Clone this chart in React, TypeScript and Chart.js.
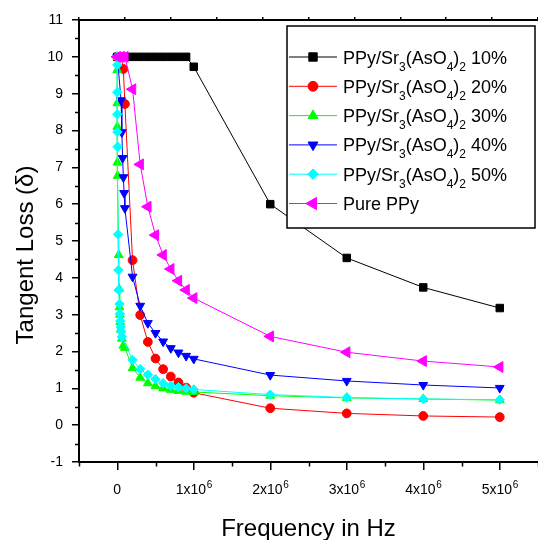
import React, { useEffect, useRef } from 'react';
import { Chart, registerables } from 'chart.js';
import { drawPoint } from 'chart.js/helpers';

Chart.register(...registerables);

const FONT = '"Liberation Sans", Arial, Helvetica, sans-serif';

// ---- series names (with _{...} subscripts) ----
const seriesNames = [
  'PPy/Sr_{3}(AsO_{4})_{2} 10%',
  'PPy/Sr_{3}(AsO_{4})_{2} 20%',
  'PPy/Sr_{3}(AsO_{4})_{2} 30%',
  'PPy/Sr_{3}(AsO_{4})_{2} 40%',
  'PPy/Sr_{3}(AsO_{4})_{2} 50%',
  'Pure PPy',
];

// ---- data (frequency in Hz, tangent loss) ----
const freq10 = [1e3, 5e4, 1e5, 2e5, 3e5, 4e5, 5e5, 6e5, 7e5, 8e5, 9e5, 1e6, 2e6, 3e6, 4e6, 5e6];
const loss10 = [10, 10, 10, 10, 10, 10, 10, 10, 10, 10, 10, 9.73, 6.0, 4.54, 3.74, 3.18];

const freq20 = [1e3, 5e4, 8e4, 1e5, 2e5, 3e5, 4e5, 5e5, 6e5, 7e5, 8e5, 9e5, 1e6, 2e6, 3e6, 4e6, 5e6];
const loss20 = [10, 10, 9.67, 8.72, 4.48, 2.99, 2.26, 1.81, 1.52, 1.32, 1.16, 1.02, 0.88, 0.46, 0.32, 0.25, 0.22];

const freq30 = [1e2, 2e2, 5e2, 1e3, 2e3, 5e3, 2e4, 2.5e4, 3e4, 3.5e4, 4e4, 4.5e4, 6e4, 8e4, 1e5, 2e5, 3e5, 4e5, 5e5, 6e5, 7e5, 8e5, 9e5, 1e6, 2e6, 3e6, 4e6, 5e6];
const loss30 = [10, 9.64, 8.74, 8.1, 7.13, 6.77, 4.62, 3.7, 3.2, 3.0, 2.8, 2.6, 2.35, 2.16, 2.1, 1.55, 1.29, 1.14, 1.06, 1.0, 0.96, 0.93, 0.91, 0.9, 0.8, 0.74, 0.71, 0.68];

const freq40 = [1e3, 5e4, 6e4, 7e4, 8e4, 9e4, 1e5, 2e5, 3e5, 4e5, 5e5, 6e5, 7e5, 8e5, 9e5, 1e6, 2e6, 3e6, 4e6, 5e6];
const loss40 = [10, 8.82, 7.95, 7.25, 6.73, 6.3, 5.89, 4.03, 3.24, 2.77, 2.5, 2.27, 2.09, 1.97, 1.88, 1.8, 1.36, 1.2, 1.09, 1.01];

const freq50 = [1e2, 2e2, 5e2, 1e3, 2e3, 5e3, 1e4, 1.5e4, 2e4, 3e4, 3.5e4, 4e4, 4.5e4, 5e4, 6e4, 2e5, 3e5, 4e5, 5e5, 6e5, 7e5, 8e5, 9e5, 1e6, 2e6, 3e6, 4e6, 5e6];
const loss50 = [10, 9.78, 9.04, 8.44, 7.96, 7.56, 5.18, 4.21, 3.67, 3.29, 3.02, 2.83, 2.66, 2.54, 2.4, 1.77, 1.52, 1.37, 1.25, 1.14, 1.07, 1.03, 1.0, 0.97, 0.83, 0.75, 0.71, 0.69];

const freqPure = [1e3, 5e4, 1e5, 2e5, 3e5, 4e5, 5e5, 6e5, 7e5, 8e5, 9e5, 1e6, 2e6, 3e6, 4e6, 5e6];
const lossPure = [10, 10, 10, 9.12, 7.08, 5.93, 5.16, 4.62, 4.24, 3.92, 3.67, 3.45, 2.41, 1.98, 1.74, 1.58];

// ---- axes ----
const X_MIN = -0.5e6;
const X_MAX = 5.5e6;
const Y_MIN = -1;
const Y_MAX = 11;
const X_MINOR = 0.5e6;
const Y_MINOR = 0.5;
const xTickValues = [0, 1e6, 2e6, 3e6, 4e6, 5e6];
const xTickBase = ['0', '1x10', '2x10', '3x10', '4x10', '5x10'];
const xTickExp = ['', '6', '6', '6', '6', '6'];
const xTitle = 'Frequency in Hz';
const yTitle = 'Tangent Loss (\u03B4)';

type Seg = { text: string; sub: boolean };
function parseRich(s: string): Seg[] {
  const out: Seg[] = [];
  const re = /_\{([^}]*)\}/g;
  let last = 0;
  let m: RegExpExecArray | null;
  while ((m = re.exec(s))) {
    if (m.index > last) out.push({ text: s.slice(last, m.index), sub: false });
    out.push({ text: m[1], sub: true });
    last = m.index + m[0].length;
  }
  if (last < s.length) out.push({ text: s.slice(last), sub: false });
  return out;
}

const decorPlugin = {
  id: 'decor',
  afterDraw(chart: any) {
    const ctx: CanvasRenderingContext2D = chart.ctx;
    const { left, right, top, bottom } = chart.chartArea;
    const xs = chart.scales.x;
    const ys = chart.scales.y;
    ctx.save();
    ctx.strokeStyle = '#000';
    ctx.lineWidth = 1.5;
    // minor ticks
    ctx.beginPath();
    for (let v = X_MIN; v <= X_MAX + 1; v += X_MINOR) {
      if (Math.abs(v / 1e6 - Math.round(v / 1e6)) < 1e-6) continue;
      const px = Math.round(xs.getPixelForValue(v)) + 0.5;
      ctx.moveTo(px, bottom);
      ctx.lineTo(px, bottom + 4.5);
    }
    for (let v = Y_MIN; v <= Y_MAX + 1e-9; v += Y_MINOR) {
      if (Math.abs(v - Math.round(v)) < 1e-6) continue;
      const py = Math.round(ys.getPixelForValue(v)) + 0.5;
      ctx.moveTo(left, py);
      ctx.lineTo(left - 4, py);
    }
    ctx.stroke();

    // x tick labels with superscripts
    ctx.fillStyle = '#000';
    ctx.textBaseline = 'alphabetic';
    ctx.textAlign = 'left';
    xTickValues.forEach((v, i) => {
      const px = xs.getPixelForValue(v);
      ctx.font = `14px ${FONT}`;
      const wb = ctx.measureText(xTickBase[i]).width;
      ctx.font = `10px ${FONT}`;
      const we = xTickExp[i] ? ctx.measureText(xTickExp[i]).width : 0;
      const x0 = px - (wb + we) / 2;
      ctx.font = `14px ${FONT}`;
      ctx.fillText(xTickBase[i], x0, bottom + 32);
      if (xTickExp[i]) {
        ctx.font = `10px ${FONT}`;
        ctx.fillText(xTickExp[i], x0 + wb + 0.5, bottom + 26);
      }
    });

    // axis titles
    ctx.font = `24px ${FONT}`;
    ctx.textAlign = 'center';
    ctx.fillText(xTitle, (left + right) / 2, bottom + 74);
    ctx.save();
    ctx.translate(33, (top + bottom) / 2 + 14);
    ctx.rotate(-Math.PI / 2);
    ctx.fillText(yTitle, 0, 0);
    ctx.restore();

    // legend
    const bx = 287, by = 26, bw = 248, bh = 202;
    ctx.fillStyle = '#fff';
    ctx.fillRect(bx, by, bw, bh);
    ctx.strokeStyle = '#000';
    ctx.lineWidth = 1.5;
    ctx.strokeRect(bx, by, bw, bh);
    chart.data.datasets.forEach((ds: any, i: number) => {
      const base = by + 37.5 + i * 29.3;
      const cy = base - 6.5;
      ctx.strokeStyle = ds.borderColor;
      ctx.lineWidth = 1;
      ctx.beginPath();
      ctx.moveTo(bx + 2, cy);
      ctx.lineTo(bx + 50, cy);
      ctx.stroke();
      ctx.fillStyle = ds.pointBackgroundColor;
      ctx.strokeStyle = ds.pointBorderColor;
      ctx.lineWidth = 1;
      drawPoint(ctx, {
        pointStyle: ds.pointStyle,
        rotation: ds.pointRotation || 0,
        radius: ds.pointRadius * 1.12,
        borderWidth: 1,
      } as any, bx + 26, cy);
      let tx = bx + 56;
      ctx.fillStyle = '#000';
      ctx.textAlign = 'left';
      for (const seg of parseRich(seriesNames[i])) {
        ctx.font = seg.sub ? `12px ${FONT}` : `18px ${FONT}`;
        ctx.fillText(seg.text, tx, seg.sub ? base + 7 : base);
        tx += ctx.measureText(seg.text).width;
      }
    });
    ctx.restore();
  },
};

function mk(label: string, fx: number[], vy: number[], color: string, style: string, radius: number, rotation: number, order: number) {
  return {
    label,
    data: fx.map((f, i) => ({ x: f, y: vy[i] })),
    borderColor: color,
    backgroundColor: color,
    borderWidth: 1,
    pointStyle: style,
    pointRadius: radius,
    pointRotation: rotation,
    pointBackgroundColor: color,
    pointBorderColor: color,
    pointBorderWidth: 1,
    tension: 0,
    order,
  };
}

export default function App() {
  const ref = useRef<HTMLCanvasElement | null>(null);
  useEffect(() => {
    document.body.style.margin = '0';
    const canvas = ref.current;
    if (!canvas) return;
    const chart = new Chart(canvas, {
      type: 'line',
      data: {
        datasets: [
          mk(seriesNames[0], freq10, loss10, '#000000', 'rect', 5.3, 0, 6),
          mk(seriesNames[1], freq20, loss20, '#ff0000', 'circle', 4.4, 0, 5),
          mk(seriesNames[2], freq30, loss30, '#00ff00', 'triangle', 5.1, 0, 4),
          mk(seriesNames[3], freq40, loss40, '#0000ff', 'triangle', 5.1, 180, 3),
          mk(seriesNames[4], freq50, loss50, '#00ffff', 'rectRot', 4.7, 0, 2),
          mk(seriesNames[5], freqPure, lossPure, '#ff00ff', 'triangle', 6.3, 270, 1),
        ] as any,
      },
      options: {
        animation: false,
        responsive: false,
        devicePixelRatio: 1,
        layout: { autoPadding: false, padding: 0 },
        plugins: { legend: { display: false }, tooltip: { enabled: false } },
        scales: {
          x: {
            type: 'linear',
            position: 'bottom',
            min: X_MIN,
            max: X_MAX,
            afterBuildTicks: (s: any) => {
              s.ticks = xTickValues.map((v) => ({ value: v }));
            },
            afterFit: (s: any) => {
              s.height = 78;
            },
            ticks: { display: false },
            grid: { display: true, drawOnChartArea: false, drawTicks: true, tickLength: 8, color: '#000', lineWidth: 1.5 },
            border: { display: true, color: '#000', width: 2 },
          },
          xTop: {
            type: 'linear',
            position: 'top',
            min: 0,
            max: 10,
            ticks: { display: false, stepSize: 1 },
            afterFit: (s: any) => {
              s.height = 20;
            },
            grid: { display: true, drawOnChartArea: false, drawTicks: true, tickLength: 3, color: '#000', lineWidth: 1.5 },
            border: { display: true, color: '#000', width: 2 },
          },
          y: {
            type: 'linear',
            position: 'left',
            min: Y_MIN,
            max: Y_MAX,
            afterFit: (s: any) => {
              s.width = 79;
            },
            ticks: { stepSize: 1, color: '#000', font: { size: 14, family: FONT }, padding: 9 },
            grid: { display: true, drawOnChartArea: false, drawTicks: true, tickLength: 7, color: '#000', lineWidth: 1.5 },
            border: { display: true, color: '#000', width: 2 },
          },
        },
      } as any,
      plugins: [decorPlugin],
    });
    return () => chart.destroy();
  }, []);
  return <canvas ref={ref} width={538} height={540} style={{ display: 'block' }} />;
}
